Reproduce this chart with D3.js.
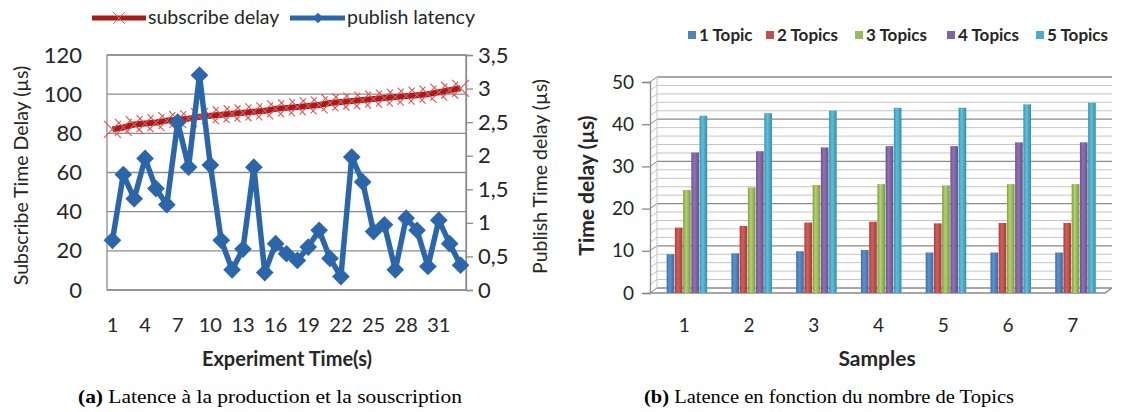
<!DOCTYPE html>
<html><head><meta charset="utf-8">
<script src="https://cdn.jsdelivr.net/npm/d3@7"></script>
<style>
html,body{margin:0;padding:0;background:#fff;}
svg{display:block;}
</style></head>
<body>
<svg id="chart" width="1128" height="412"></svg>
<script>
// ---------- Data: chart (a) ----------
const experimentTime = [1,2,3,4,5,6,7,8,9,10,11,12,13,14,15,16,17,18,19,20,21,22,23,24,25,26,27,28,29,30,31,32,33];
const timeTickLabels = [1,4,7,10,13,16,19,22,25,28,31];
const subscribeDelay = [82,83,84.5,85,85.5,86.5,87,87.5,88.5,89,89.5,90,90.5,91,91.5,92.5,93,93.5,94,94.5,95.5,96,96.5,97,97.5,98,98.5,99,99.5,100,101,102,103];
const publishLatency = [0.74,1.72,1.36,1.96,1.51,1.27,2.50,1.83,3.20,1.86,0.74,0.30,0.61,1.83,0.26,0.69,0.54,0.44,0.64,0.89,0.47,0.20,1.98,1.61,0.87,0.97,0.30,1.07,0.89,0.35,1.04,0.69,0.37];
const leftTicks = [0,20,40,60,80,100,120];
const rightTicks = [0,0.5,1,1.5,2,2.5,3,3.5];
const seriesNamesA = ["subscribe delay","publish latency"];

// ---------- Data: chart (b) ----------
const samples = ["1","2","3","4","5","6","7"];
const topicNames = ["1 Topic","2 Topics","3 Topics","4 Topics","5 Topics"];
const oneTopic   = [9.2,9.4,9.9,10.2,9.6,9.6,9.6];
const twoTopics  = [15.5,15.9,16.7,16.9,16.5,16.6,16.6];
const threeTopics= [24.4,25.0,25.6,25.8,25.5,25.8,25.8];
const fourTopics = [33.3,33.6,34.5,34.8,34.8,35.7,35.7];
const fiveTopics = [42.0,42.6,43.2,43.9,43.9,44.7,45.1];
const topicTicks = [0,10,20,30,40,50];

const svg = d3.select("#chart");
const sans = "Lato, 'Open Sans', sans-serif";
const serif = "'Liberation Serif', 'DejaVu Serif', serif";
const txt = "#262626";

// ================= Chart (a) =================
const ax = {l:107, r:466, t:55, b:290};
const xA = d3.scaleBand().domain(experimentTime).range([ax.l, ax.r]);
const yL = d3.scaleLinear().domain([0,120]).range([ax.b, ax.t]);
const yR = d3.scaleLinear().domain([0,3.5]).range([ax.b, ax.t]);
const cx = d => xA(d) + xA.bandwidth()/2;

const gA = svg.append("g");
gA.append("g").selectAll("line").data(leftTicks).join("line")
  .attr("x1", ax.l).attr("x2", ax.r).attr("y1", d=>yL(d)).attr("y2", d=>yL(d))
  .attr("stroke", "#8c8c8c").attr("stroke-width", 1.3);
gA.append("rect").attr("x", ax.l).attr("y", ax.t).attr("width", ax.r-ax.l).attr("height", ax.b-ax.t)
  .attr("fill","none").attr("stroke","#8c8c8c").attr("stroke-width",1.3);

const leftAxis = d3.axisLeft(yL).tickValues(leftTicks).tickSize(0).tickPadding(25);
const gLA = gA.append("g").attr("transform", `translate(${ax.l},0)`).call(leftAxis);
gLA.select(".domain").remove();
gLA.selectAll("text").attr("font-family", sans).attr("font-size", 22).attr("fill", txt);

const rightAxis = d3.axisRight(yR).tickValues(rightTicks).tickSize(7).tickPadding(5)
  .tickFormat(d => d3.format("~g")(d).replace(".", ","));
const gRA = gA.append("g").attr("transform", `translate(${ax.r},0)`).call(rightAxis);
gRA.select(".domain").attr("stroke","#8c8c8c").attr("stroke-width",1.3);
gRA.selectAll(".tick line").attr("stroke","#8c8c8c").attr("stroke-width",1.3);
gRA.selectAll("text").attr("font-family", sans).attr("font-size", 22).attr("fill", txt);

const bottomAxis = d3.axisBottom(xA).tickValues(timeTickLabels).tickSize(0).tickPadding(28);
const gBA = gA.append("g").attr("transform", `translate(0,${ax.b})`).call(bottomAxis);
gBA.select(".domain").remove();
gBA.selectAll("text").attr("font-family", sans).attr("font-size", 20).attr("fill", txt);

gA.append("text").attr("transform", `translate(28,${(ax.t+ax.b)/2 + 3}) rotate(-90)`)
  .attr("text-anchor","middle").attr("font-family", sans).attr("font-size", 19.5).attr("fill", txt)
  .text("Subscribe Time Delay (µs)");
gA.append("text").attr("transform", `translate(547,${(ax.t+ax.b)/2 + 4}) rotate(-90)`)
  .attr("text-anchor","middle").attr("font-family", sans).attr("font-size", 19.5).attr("fill", txt)
  .text("Publish Time delay (µs)");
gA.append("text").attr("x", 287).attr("y", 366).attr("text-anchor","middle")
  .attr("font-family", sans).attr("font-size", 20).attr("font-weight","bold").attr("fill", txt)
  .text("Experiment Time(s)");

const redLine = "#a81b1b", redMark = "#dd5555";
const blueLine = "#2b66aa";
gA.append("path").datum(subscribeDelay.map((v,i)=>[experimentTime[i], v]))
  .attr("d", d3.line().x(d=>cx(d[0])).y(d=>yL(d[1])))
  .attr("fill","none").attr("stroke", redLine).attr("stroke-width", 6).attr("stroke-linejoin","round");
const cross = d3.symbol().type(d3.symbolX).size(190);
gA.append("g").selectAll("path").data(subscribeDelay.map((v,i)=>[experimentTime[i], v])).join("path")
  .attr("d", cross).attr("transform", d=>`translate(${cx(d[0])},${yL(d[1])})`)
  .attr("fill","none").attr("stroke", redMark).attr("stroke-width", 1.1);

gA.append("path").datum(publishLatency.map((v,i)=>[experimentTime[i], v]))
  .attr("d", d3.line().x(d=>cx(d[0])).y(d=>yR(d[1])))
  .attr("fill","none").attr("stroke", blueLine).attr("stroke-width", 5.5).attr("stroke-linejoin","round");
const diamond = d3.symbol().type(d3.symbolDiamond2).size(200);
gA.append("g").selectAll("path").data(publishLatency.map((v,i)=>[experimentTime[i], v])).join("path")
  .attr("d", diamond).attr("transform", d=>`translate(${cx(d[0])},${yR(d[1])})`)
  .attr("fill", blueLine);

// legend (a)
const legA = gA.append("g");
legA.append("line").attr("x1",92).attr("x2",146).attr("y1",18).attr("y2",18).attr("stroke",redLine).attr("stroke-width",5);
legA.append("path").attr("d", d3.symbol().type(d3.symbolX).size(90)).attr("transform","translate(119,18)").attr("fill","none").attr("stroke",redMark).attr("stroke-width",1);
legA.append("text").attr("x",148).attr("y",24).attr("font-family",sans).attr("font-size",19.5).attr("fill",txt).text(seriesNamesA[0]);
legA.append("line").attr("x1",290).attr("x2",345).attr("y1",18).attr("y2",18).attr("stroke",blueLine).attr("stroke-width",5);
legA.append("path").attr("d", d3.symbol().type(d3.symbolDiamond2).size(70)).attr("transform","translate(318,18)").attr("fill",blueLine);
legA.append("text").attr("x",347).attr("y",24).attr("font-family",sans).attr("font-size",19.5).attr("fill",txt).text(seriesNamesA[1]);

// ================= Chart (b) =================
const bx = {l:650, r:1105, t:82, b:293, dx:7, dy:-5};
const yB = d3.scaleLinear().domain([0,50]).range([bx.b, bx.t]);
const x0 = d3.scaleBand().domain(samples).range([655, 1108]).paddingInner(0.365).paddingOuter(0.18);
const x1 = d3.scaleBand().domain(topicNames).range([0, x0.bandwidth()]);
const topicColors = ["#4f81bd","#c0504d","#9bbb59","#8064a2","#4bacc6"];
const colorB = d3.scaleOrdinal().domain(topicNames).range(topicColors);
const topicValues = [oneTopic, twoTopics, threeTopics, fourTopics, fiveTopics];

const gB = svg.append("g");
const minor = d3.range(0, 51, 2);
gB.append("g").selectAll("line").data(minor).join("line")
  .attr("x1", bx.l+bx.dx).attr("x2", bx.r+bx.dx)
  .attr("y1", d=>yB(d)+bx.dy).attr("y2", d=>yB(d)+bx.dy)
  .attr("stroke", d => d%10===0 ? "#8a8a8a" : "#c4c4c4").attr("stroke-width", d => d%10===0 ? 1.3 : 1);
gB.append("g").selectAll("line").data(minor).join("line")
  .attr("x1", bx.l).attr("x2", bx.l+bx.dx)
  .attr("y1", d=>yB(d)).attr("y2", d=>yB(d)+bx.dy)
  .attr("stroke", d => d%10===0 ? "#8a8a8a" : "#c4c4c4").attr("stroke-width", 1);
gB.append("line").attr("x1",bx.l+bx.dx).attr("x2",bx.l+bx.dx).attr("y1",yB(0)+bx.dy).attr("y2",yB(50)+bx.dy).attr("stroke","#c4c4c4");
gB.append("path").attr("d", `M${bx.l},${yB(0)} L${bx.r},${yB(0)} L${bx.r+bx.dx},${yB(0)+bx.dy}`)
  .attr("fill","none").attr("stroke","#8a8a8a").attr("stroke-width",1.3);

const axisB = d3.axisLeft(yB).tickValues(topicTicks).tickSize(8).tickPadding(8);
const gAB = gB.append("g").attr("transform", `translate(${bx.l},0)`).call(axisB);
gAB.select(".domain").attr("stroke","#8a8a8a").attr("stroke-width",1.3);
gAB.selectAll(".tick line").attr("stroke","#8a8a8a").attr("stroke-width",1.3);
gAB.selectAll("text").attr("font-family", sans).attr("font-size", 19).attr("fill", txt);

const axisBX = d3.axisBottom(x0).tickSize(0).tickPadding(26);
const gXB = gB.append("g").attr("transform", `translate(-3,${bx.b})`).call(axisBX);
gXB.select(".domain").remove();
gXB.selectAll("text").attr("font-family", sans).attr("font-size", 19).attr("fill", txt);

const defs = svg.append("defs");
topicColors.forEach((c,i) => {
  const g = defs.append("linearGradient").attr("id","grad"+i).attr("x1","0").attr("x2","1").attr("y1","0").attr("y2","0");
  const base = d3.color(c);
  g.append("stop").attr("offset","0%").attr("stop-color", base.darker(0.5));
  g.append("stop").attr("offset","40%").attr("stop-color", base.brighter(0.35));
  g.append("stop").attr("offset","100%").attr("stop-color", base.darker(0.6));
});

const groups = gB.append("g").selectAll("g").data(samples).join("g")
  .attr("transform", d => `translate(${x0(d)},0)`);
groups.selectAll("rect").data((s,si) => topicNames.map((t,ti) => ({t, ti, v: topicValues[ti][si]}))).join("rect")
  .attr("x", d => x1(d.t)).attr("width", x1.bandwidth()-0.6)
  .attr("y", d => yB(d.v)).attr("height", d => yB(0)-yB(d.v))
  .attr("fill", d => `url(#grad${d.ti})`);

gB.append("text").attr("transform", `translate(594,${(bx.t+bx.b)/2 - 2}) rotate(-90)`)
  .attr("text-anchor","middle").attr("font-family", sans).attr("font-size", 21).attr("font-weight","bold").attr("fill", txt)
  .text("Time delay (µs)");
gB.append("text").attr("x", 877).attr("y", 366).attr("text-anchor","middle")
  .attr("font-family", sans).attr("font-size", 21).attr("font-weight","bold").attr("fill", txt)
  .text("Samples");

// legend (b)
const legendX = [688, 766, 855, 947, 1036];
const legB = gB.append("g").attr("transform","translate(0,36)");
topicNames.forEach((n,i) => {
  const it = legB.append("g").attr("transform", `translate(${legendX[i]},0)`);
  it.append("rect").attr("x",0).attr("y",-5).attr("width",8).attr("height",8).attr("fill", colorB(n));
  it.append("text").attr("x",11).attr("y",4.5).attr("font-family",sans).attr("font-size",17).attr("font-weight","bold").attr("fill",txt).text(n);
});

// ================= Captions =================
const capA = svg.append("text").attr("x", 270).attr("y", 403).attr("text-anchor","middle")
  .attr("font-family", serif).attr("font-size", 19).attr("fill","#000")
  .attr("textLength", 384).attr("lengthAdjust","spacingAndGlyphs");
capA.append("tspan").attr("font-weight","bold").text("(a)");
capA.append("tspan").text(" Latence à la production et la souscription");
const capB = svg.append("text").attr("x", 829).attr("y", 403).attr("text-anchor","middle")
  .attr("font-family", serif).attr("font-size", 19).attr("fill","#000")
  .attr("textLength", 370).attr("lengthAdjust","spacingAndGlyphs");
capB.append("tspan").attr("font-weight","bold").text("(b)");
capB.append("tspan").text(" Latence en fonction du nombre de Topics");
</script>
</body></html>
